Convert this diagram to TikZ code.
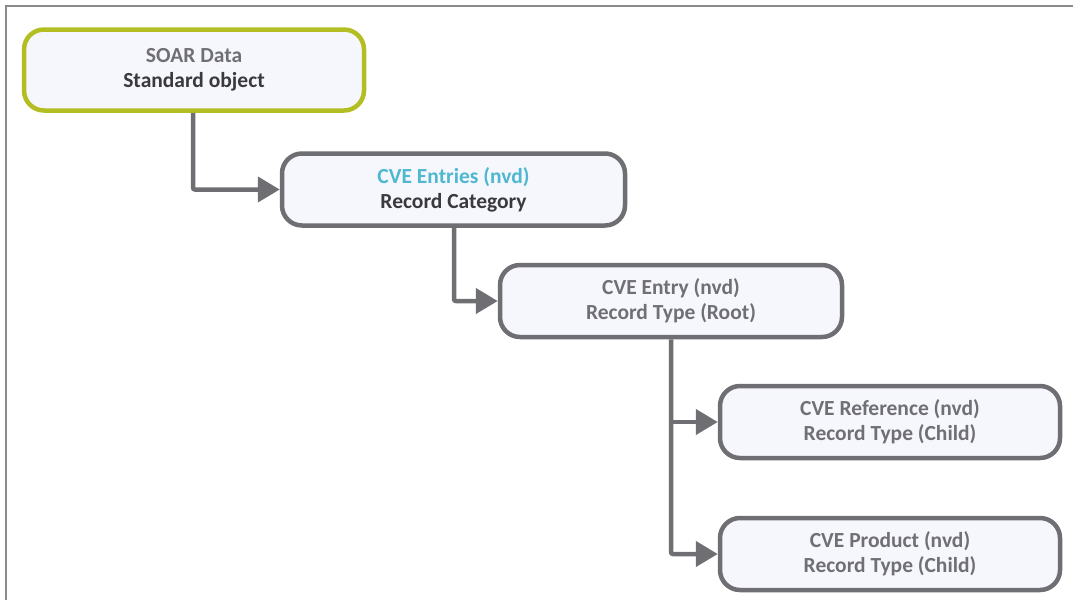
\documentclass[tikz,border=0pt]{standalone}
\usepackage{fontspec}
\setmainfont{Carlito}
\usetikzlibrary{arrows.meta,calc}
\definecolor{boxfill}{HTML}{F6F6FD}
\definecolor{boxline}{HTML}{6E6E73}
\definecolor{rootline}{HTML}{B2BE22}
\definecolor{softtext}{HTML}{6F6F74}
\definecolor{darktext}{HTML}{3A3A3D}
\definecolor{cattext}{HTML}{4DB8CF}
\definecolor{framegray}{HTML}{8A8A8A}
\tikzset{
  entity/.style={draw=boxline, line width=4.5pt, fill=boxfill, rounded corners=20pt,
    minimum width=340pt, minimum height=72pt, align=center, inner sep=0pt,
    font=\fontsize{21.5}{25}\selectfont\bfseries, text=softtext},
  rootentity/.style={entity, draw=rootline, minimum height=81pt},
  link/.style={draw=boxline, line width=4.5pt,
    -{Triangle[length=22pt,width=25pt]}},
}
\begin{document}
\begin{tikzpicture}[x=1pt,y=-1pt]
\useasboundingbox (0,0) rectangle (1073,600);
% outer frame (top and left edges)
\draw[framegray, line width=2pt] (6,600) -- (6,6) -- (1073,6);

\node[rootentity] (soar) at (194,70) {SOAR Data\\\textcolor{darktext}{Standard object}};
\node[entity, minimum width=343pt] (cat) at (453.5,189.5) {\textcolor{cattext}{CVE Entries (nvd)}\\\textcolor{darktext}{Record Category}};
\node[entity, minimum width=342pt] (root) at (671,301) {CVE Entry (nvd)\\Record Type (Root)};
\node[entity] (ref) at (890,422) {CVE Reference (nvd)\\Record Type (Child)};
\node[entity] (prod) at (890,554) {CVE Product (nvd)\\Record Type (Child)};

\draw[link, rounded corners=2pt] (soar.south -| 193,0) |- (cat.west);
\draw[link, rounded corners=2pt] (cat.south -| 454,0) |- (root.west);
\draw[link, rounded corners=2pt] (root.south) |- (prod.west);
\draw[link] (root.south |- ref.west) -- (ref.west);
\end{tikzpicture}
\end{document}
